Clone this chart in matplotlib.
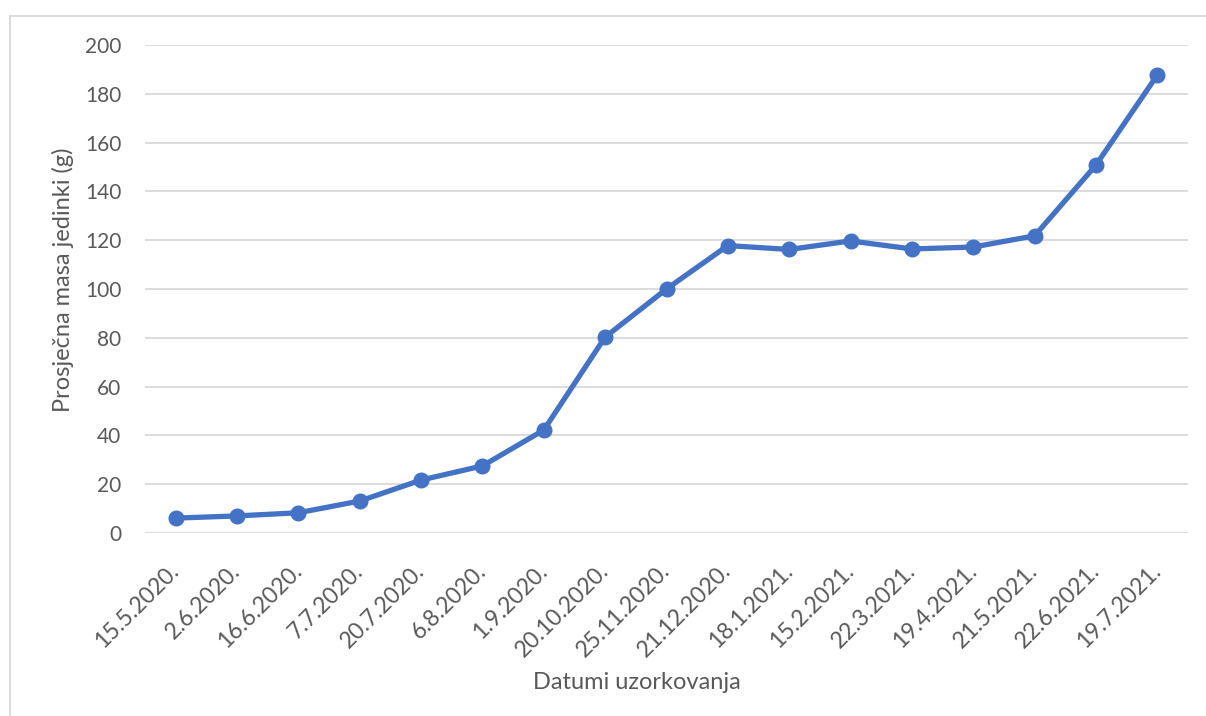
import matplotlib.pyplot as plt
from matplotlib.lines import Line2D

datumi = ['15.5.2020.', '2.6.2020.', '16.6.2020.', '7.7.2020.', '20.7.2020.',
          '6.8.2020.', '1.9.2020.', '20.10.2020.', '25.11.2020.', '21.12.2020.',
          '18.1.2021.', '15.2.2021.', '22.3.2021.', '19.4.2021.', '21.5.2021.',
          '22.6.2021.', '19.7.2021.']
masa = [6.1, 7.0, 8.3, 13.1, 21.7, 27.5, 42.2, 80.3, 100.0, 117.8,
        116.2, 119.7, 116.4, 117.2, 121.8, 150.8, 187.7]

plt.rcParams['font.family'] = ['Lato', 'DejaVu Sans']

fig = plt.figure(figsize=(12.06, 7.16), dpi=100)
W, H = 1206, 716
ax = fig.add_axes([145 / W, 1 - 533 / H, (1188 - 145) / W, (533 - 45) / H])

x = list(range(len(datumi)))
ax.plot(x, masa, color='#4472C4', linewidth=3.8, marker='o', markersize=10.5,
        solid_capstyle='round', solid_joinstyle='round', zorder=3)

ax.set_xlim(-0.5, len(datumi) - 0.5)
ax.set_ylim(0, 200)
ax.set_yticks(range(0, 201, 20))
ax.set_xticks(x)
ax.set_xticklabels(datumi, rotation=45, ha='right', va='center', rotation_mode='anchor')
ax.grid(axis='y', color='#D9D9D9', linewidth=1.3)
ax.set_axisbelow(True)
for s in ax.spines.values():
    s.set_visible(False)
ax.tick_params(length=0, labelsize=15, colors='#595959')
ax.tick_params(axis='y', pad=17)
ax.tick_params(axis='x', pad=25, labelsize=16.5)

ax.set_xlabel('Datumi uzorkovanja', fontsize=17, color='#595959', va='center')
ax.set_ylabel('Prosječna masa jedinki (g)', fontsize=17, color='#595959', va='center')
ax.xaxis.set_label_coords(0.472, -0.307)
ax.yaxis.set_label_coords(-0.0786, 0.518)

# chart border (top and left visible)
fig.add_artist(Line2D([9.5 / W, 1], [1 - 15.5 / H, 1 - 15.5 / H], color='#D9D9D9', linewidth=1.3))
fig.add_artist(Line2D([9.5 / W, 9.5 / W], [0, 1 - 15.5 / H], color='#D9D9D9', linewidth=1.3))

fig.savefig('out.png', dpi=100)
